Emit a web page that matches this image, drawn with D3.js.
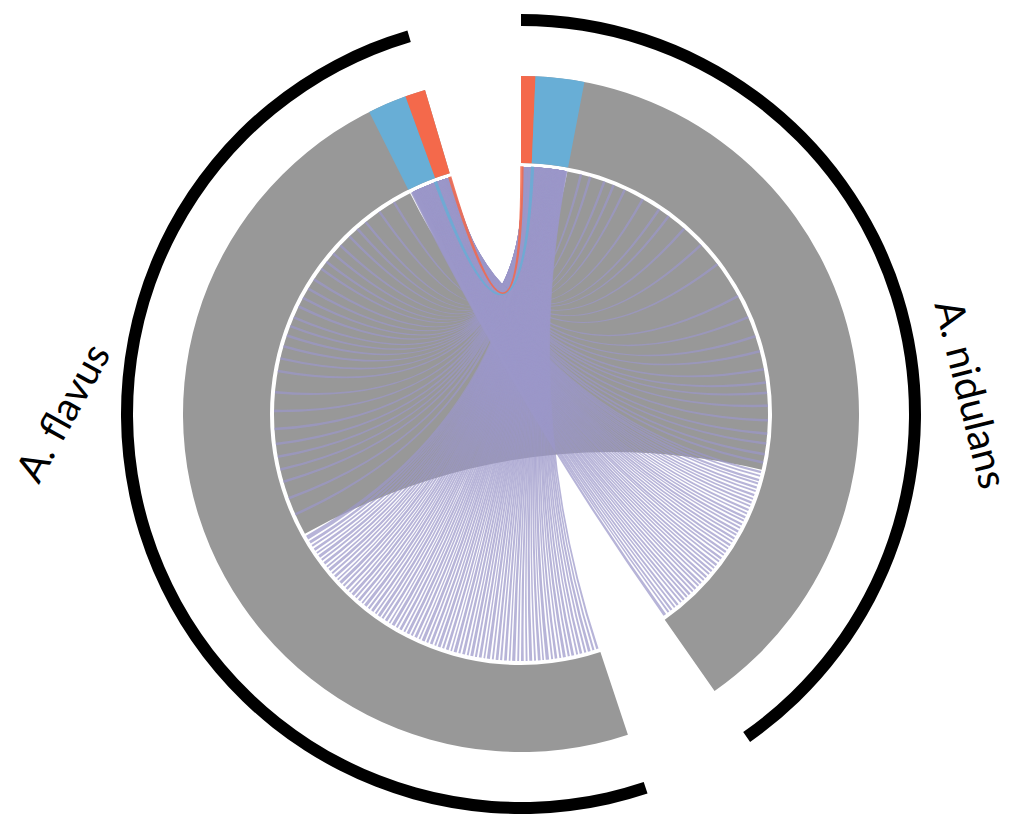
<!DOCTYPE html>
<html>
<head>
<meta charset="utf-8">
<script src="https://cdn.jsdelivr.net/npm/d3@7"></script>
<style>
  html, body { margin: 0; background: #fff; }
  svg { display: block; }
</style>
</head>
<body>
<div id="chart"></div>
<script>
// Genomes, laid out clockwise from 12 o'clock (sizes in Mb)
const genomes = ['A. nidulans', 'A. flavus'];
const genomeSizes = [29.5, 37.0];

// Highlighted clusters on the ideogram: [genome index, start Mb, end Mb, kind]
const highlights = [
    [0, 0.0, 0.5, 'red'],
    [0, 0.5, 2.2, 'blue'],
    [1, 34.93, 36.29, 'blue'],
    [1, 36.29, 37.0, 'red']
];

// All links are [A. flavus start, end, A. nidulans start, end] in Mb
const conservedBlock = [[16.16, 34.93, 2.2, 20.95]];

// cluster-to-cluster gene links, drawn over the purple links
const clusterLinks = [
    [36.20, 36.29, 0.50, 0.59, 'blue'],
    [36.91, 37.00, 0.00, 0.09, 'red']
];

// A. flavus 0–16 Mb -> A. nidulans cluster
const flavusFanLinks = [
    [0.03, 0.14, 1.90, 2.20], [0.23, 0.33, 1.88, 2.18], [0.42, 0.55, 1.86, 2.16], [0.63, 0.73, 1.84, 2.14],
    [0.83, 0.95, 1.82, 2.12], [1.03, 1.12, 1.80, 2.10], [1.22, 1.35, 1.78, 2.08], [1.43, 1.53, 1.76, 2.06],
    [1.62, 1.76, 1.74, 2.04], [1.84, 1.93, 1.72, 2.02], [2.03, 2.15, 1.70, 2.00], [2.23, 2.32, 1.68, 1.98],
    [2.42, 2.58, 1.66, 1.96], [2.66, 2.74, 1.64, 1.94], [2.82, 2.95, 1.62, 1.92], [3.04, 3.13, 1.60, 1.90],
    [3.22, 3.36, 1.58, 1.88], [3.44, 3.53, 1.56, 1.86], [3.62, 3.75, 1.54, 1.84], [3.84, 3.93, 1.52, 1.82],
    [4.02, 4.17, 1.50, 1.80], [4.25, 4.33, 1.48, 1.78], [4.42, 4.55, 1.46, 1.76], [4.64, 4.74, 1.44, 1.74],
    [4.82, 4.95, 1.42, 1.72], [5.04, 5.13, 1.40, 1.70], [5.22, 5.37, 1.38, 1.68], [5.45, 5.53, 1.36, 1.66],
    [5.62, 5.75, 1.34, 1.64], [5.84, 5.94, 1.32, 1.62], [6.02, 6.16, 1.30, 1.60], [6.24, 6.33, 1.28, 1.58],
    [6.42, 6.55, 1.26, 1.56], [6.64, 6.74, 1.24, 1.54], [6.82, 6.97, 1.22, 1.52], [7.05, 7.13, 1.20, 1.50],
    [7.22, 7.35, 1.18, 1.48], [7.44, 7.54, 1.16, 1.46], [7.62, 7.76, 1.14, 1.44], [7.84, 7.93, 1.12, 1.42],
    [8.02, 8.15, 1.10, 1.40], [8.24, 8.34, 1.08, 1.38], [8.42, 8.57, 1.06, 1.36], [8.65, 8.73, 1.04, 1.34],
    [8.82, 8.95, 1.02, 1.32], [9.04, 9.14, 1.00, 1.30], [9.22, 9.36, 0.98, 1.28], [9.44, 9.53, 0.96, 1.26],
    [9.62, 9.75, 0.94, 1.24], [9.84, 9.94, 0.92, 1.22], [10.02, 10.17, 0.90, 1.20], [10.25, 10.33, 0.88, 1.18],
    [10.42, 10.55, 0.86, 1.16], [10.64, 10.74, 0.84, 1.14], [10.82, 10.96, 0.82, 1.12], [11.04, 11.13, 0.80, 1.10],
    [11.22, 11.35, 0.78, 1.08], [11.44, 11.54, 0.76, 1.06], [11.62, 11.77, 0.74, 1.04], [11.85, 11.93, 0.72, 1.02],
    [12.02, 12.15, 0.70, 1.00], [12.24, 12.34, 0.68, 0.98], [12.42, 12.56, 0.66, 0.96], [12.64, 12.73, 0.64, 0.94],
    [12.82, 12.95, 0.62, 0.92], [13.04, 13.14, 0.60, 0.90], [13.22, 13.37, 0.58, 0.88], [13.45, 13.53, 0.56, 0.86],
    [13.62, 13.75, 0.54, 0.84], [13.84, 13.94, 0.52, 0.82], [14.02, 14.16, 0.50, 0.80], [14.24, 14.33, 0.48, 0.78],
    [14.42, 14.55, 0.46, 0.76], [14.64, 14.74, 0.44, 0.74], [14.82, 14.96, 0.42, 0.72], [15.04, 15.13, 0.40, 0.70],
    [15.22, 15.35, 0.38, 0.68], [15.44, 15.54, 0.36, 0.66], [15.62, 15.76, 0.34, 0.64], [15.84, 16.05, 0.32, 0.62]
];

// scattered A. flavus hits -> A. nidulans cluster
const flavusSparseLinks = [
    [17.12, 17.24, 0.32, 0.62], [17.94, 18.06, 0.31, 0.61], [18.76, 18.88, 0.30, 0.60], [19.35, 19.47, 0.29, 0.59],
    [19.96, 20.08, 0.28, 0.58], [20.57, 20.69, 0.27, 0.57], [21.28, 21.40, 0.26, 0.56], [22.14, 22.26, 0.25, 0.55],
    [23.02, 23.14, 0.24, 0.54], [24.03, 24.15, 0.23, 0.53], [24.64, 24.76, 0.22, 0.52], [25.23, 25.35, 0.21, 0.51],
    [25.76, 25.88, 0.20, 0.50], [26.23, 26.35, 0.19, 0.49], [26.68, 26.80, 0.18, 0.48], [27.24, 27.36, 0.17, 0.47],
    [27.69, 27.81, 0.16, 0.46], [28.20, 28.32, 0.15, 0.45], [28.71, 28.83, 0.14, 0.44], [29.32, 29.44, 0.13, 0.43],
    [29.73, 29.85, 0.12, 0.42], [30.23, 30.35, 0.11, 0.41], [30.74, 30.86, 0.10, 0.40], [31.35, 31.47, 0.09, 0.39],
    [31.86, 31.98, 0.08, 0.38], [32.37, 32.49, 0.07, 0.37], [33.18, 33.30, 0.06, 0.36], [34.00, 34.12, 0.05, 0.35]
];

// A. flavus cluster -> scattered A. nidulans hits
const nidulansSparseLinks = [
    [36.70, 37.00, 2.80, 2.92], [36.69, 36.99, 3.25, 3.37], [36.67, 36.97, 3.95, 4.07], [36.66, 36.96, 4.42, 4.54],
    [36.64, 36.94, 4.99, 5.11], [36.63, 36.93, 5.95, 6.07], [36.61, 36.91, 6.86, 6.98], [36.60, 36.90, 7.41, 7.53],
    [36.58, 36.88, 8.35, 8.47], [36.57, 36.87, 9.45, 9.57], [36.55, 36.85, 10.65, 10.77], [36.54, 36.84, 12.45, 12.57],
    [36.52, 36.82, 13.55, 13.67], [36.51, 36.81, 14.51, 14.63], [36.49, 36.79, 15.25, 15.37], [36.48, 36.78, 16.12, 16.24],
    [36.46, 36.76, 16.75, 16.87], [36.45, 36.75, 17.24, 17.36], [36.43, 36.73, 17.85, 17.97], [36.42, 36.72, 18.54, 18.66],
    [36.40, 36.70, 19.17, 19.29], [36.39, 36.69, 19.64, 19.76], [36.37, 36.67, 20.15, 20.27], [36.36, 36.66, 20.55, 20.67]
];

// A. flavus cluster -> A. nidulans 21–29.5 Mb
const nidulansFanLinks = [
    [36.33, 36.63, 21.02, 21.13], [36.30, 36.60, 21.21, 21.30], [36.27, 36.57, 21.40, 21.51], [36.24, 36.54, 21.58, 21.67],
    [36.21, 36.51, 21.77, 21.88], [36.18, 36.48, 21.96, 22.05], [36.14, 36.44, 22.15, 22.26], [36.11, 36.41, 22.34, 22.43],
    [36.08, 36.38, 22.52, 22.63], [36.05, 36.35, 22.71, 22.80], [36.02, 36.32, 22.90, 23.01], [35.99, 36.29, 23.09, 23.18],
    [35.96, 36.26, 23.28, 23.39], [35.93, 36.23, 23.46, 23.55], [35.90, 36.20, 23.65, 23.76], [35.87, 36.17, 23.84, 23.93],
    [35.83, 36.13, 24.03, 24.14], [35.80, 36.10, 24.22, 24.31], [35.77, 36.07, 24.40, 24.51], [35.74, 36.04, 24.59, 24.68],
    [35.71, 36.01, 24.78, 24.89], [35.68, 35.98, 24.97, 25.06], [35.65, 35.95, 25.16, 25.27], [35.62, 35.92, 25.34, 25.43],
    [35.59, 35.89, 25.53, 25.64], [35.56, 35.86, 25.72, 25.81], [35.52, 35.82, 25.91, 26.02], [35.49, 35.79, 26.10, 26.19],
    [35.46, 35.76, 26.28, 26.39], [35.43, 35.73, 26.47, 26.56], [35.40, 35.70, 26.66, 26.77], [35.37, 35.67, 26.85, 26.94],
    [35.34, 35.64, 27.04, 27.15], [35.31, 35.61, 27.22, 27.31], [35.28, 35.58, 27.41, 27.52], [35.25, 35.55, 27.60, 27.69],
    [35.21, 35.51, 27.79, 27.90], [35.18, 35.48, 27.98, 28.07], [35.15, 35.45, 28.16, 28.27], [35.12, 35.42, 28.35, 28.44],
    [35.09, 35.39, 28.54, 28.65], [35.06, 35.36, 28.73, 28.82], [35.03, 35.33, 28.92, 29.03], [35.00, 35.30, 29.10, 29.19],
    [34.97, 35.27, 29.29, 29.44]
];

// ---- layout / style ----
const width = 1019;
const height = 818;
const center = { x: 521, y: 414 };
const gapDeg = 16.5;
const linkRadius = 247;
const ring = { inner: 251, outer: 338 };
const band = { inner: 388, outer: 400 };
const colors = {
    ring: '#989898',
    block: '#989898',
    link: '#9b97c9',
    red: '#f4694b',
    blue: '#68aed6',
    band: '#000'
};

const rad = d => d * Math.PI / 180;
const degPerMb = (360 - genomes.length * gapDeg) / d3.sum(genomeSizes);

/** One angular scale per genome, Mb -> radians. */
const angle = [];
let cursor = 0;
genomeSizes.forEach((size) => {
    angle.push(d3.scaleLinear().domain([0, size]).range([rad(cursor), rad(cursor + size * degPerMb)]));
    cursor += size * degPerMb + gapDeg;
});
const NID = 0, FLA = 1;

const svg = d3.select('#chart').append('svg')
    .attr('width', width)
    .attr('height', height)
    .attr('role', 'img')
    .attr('aria-label', 'Links between A. flavus and A. nidulans');

const g = svg.append('g').attr('transform', `translate(${center.x},${center.y})`);

const ringArc = d3.arc().innerRadius(ring.inner).outerRadius(ring.outer);
const bandArc = d3.arc().innerRadius(band.inner).outerRadius(band.outer);
const ribbon = d3.ribbon().radius(linkRadius);

/** Turn a [flavusStart, flavusEnd, nidulansStart, nidulansEnd] link into a ribbon datum. */
function toRibbon(l) {
    return {
        source: { startAngle: angle[FLA](l[0]), endAngle: angle[FLA](l[1]) },
        target: { startAngle: angle[NID](l[2]), endAngle: angle[NID](l[3]) }
    };
}

// ideogram
g.append('g').selectAll('path')
    .data(genomeSizes)
    .join('path')
    .attr('d', (size, i) => ringArc({ startAngle: angle[i](0), endAngle: angle[i](size) }))
    .attr('fill', colors.ring);

g.append('g').selectAll('path')
    .data(highlights)
    .join('path')
    .attr('d', h => ringArc({ startAngle: angle[h[0]](h[1]), endAngle: angle[h[0]](h[2]) }))
    .attr('fill', h => colors[h[3]]);

// genome bands
g.append('g').selectAll('path')
    .data(genomeSizes)
    .join('path')
    .attr('d', (size, i) => bandArc({ startAngle: angle[i](0), endAngle: angle[i](size) }))
    .attr('fill', colors.band);

// links
g.append('g').selectAll('path')
    .data(conservedBlock)
    .join('path')
    .attr('d', l => ribbon(toRibbon(l)))
    .attr('fill', colors.block);

const purple = [].concat(flavusSparseLinks, nidulansSparseLinks, flavusFanLinks, nidulansFanLinks);
g.append('g').selectAll('path')
    .data(purple)
    .join('path')
    .attr('d', l => ribbon(toRibbon(l)))
    .attr('fill', colors.link)
    .attr('fill-opacity', 0.72);

g.append('g').selectAll('path')
    .data(clusterLinks)
    .join('path')
    .attr('d', l => ribbon(toRibbon(l)))
    .attr('fill', l => colors[l[4]])
    .attr('stroke', l => colors[l[4]])
    .attr('stroke-width', 1.4)
    .attr('opacity', 0.85);

// genome labels
const labels = [
    { text: genomes[FLA], x: 62, y: 412, rotate: -61 },
    { text: genomes[NID], x: 972, y: 394, rotate: 76 }
];
svg.append('g').selectAll('text')
    .data(labels)
    .join('text')
    .attr('transform', d => `translate(${d.x},${d.y}) rotate(${d.rotate})`)
    .attr('text-anchor', 'middle')
    .attr('dominant-baseline', 'central')
    .style('font-family', 'Lato, "Open Sans", sans-serif')
    .style('font-size', '40px')
    .attr('fill', '#000')
    .text(d => d.text);
</script>
</body>
</html>
